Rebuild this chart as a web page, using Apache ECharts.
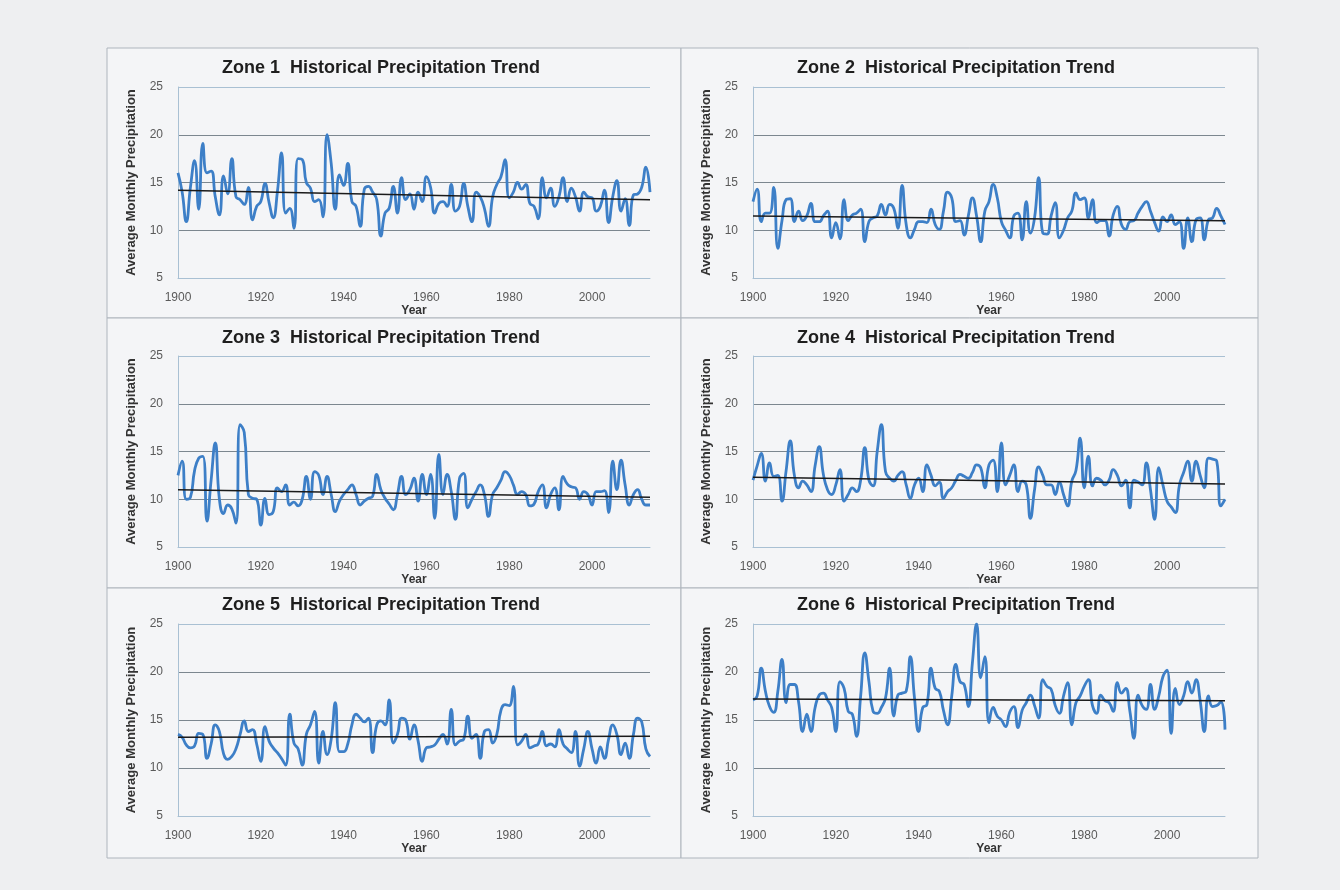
<!DOCTYPE html>
<html><head><meta charset="utf-8">
<script src="https://cdn.jsdelivr.net/npm/echarts@6/dist/echarts.min.js"></script>
<style>html,body{margin:0;padding:0;background:#eeeff1}#c{width:1340px;height:890px}</style>
</head><body><div id="c"></div>
<script>
const firstYear = 1900, lastYear = 2014;
const xTicks = [1900, 1920, 1940, 1960, 1980, 2000];
const yTicks = [5, 10, 15, 20, 25];
const zoneTitles = [
  'Zone 1  Historical Precipitation Trend', 'Zone 2  Historical Precipitation Trend',
  'Zone 3  Historical Precipitation Trend', 'Zone 4  Historical Precipitation Trend',
  'Zone 5  Historical Precipitation Trend', 'Zone 6  Historical Precipitation Trend'];
const yName = 'Average Monthly Precipitation';
const xName = 'Year';

const zone1 = [
  16.0, 14.0, 10.9, 14.5, 17.3, 12.2, 19.1, 16.0, 16.2, 13.5,
  11.6, 15.7, 13.8, 17.5, 13.5, 13.2, 12.7, 14.5, 11.1, 12.5,
  13.0, 14.9, 12.9, 11.3, 14.0, 18.1, 11.8, 12.3, 10.2, 17.5,
  17.4, 15.0, 14.4, 13.0, 13.2, 11.4, 20.0, 17.0, 12.2, 15.8,
  14.7, 17.0, 13.0, 12.5, 10.4, 14.3, 14.6, 14.0, 13.2, 9.4,
  11.8, 12.3, 14.6, 11.8, 15.5, 13.2, 13.8, 12.2, 14.0, 13.0,
  15.6, 14.5, 11.8, 12.8, 13.0, 12.5, 14.8, 12.0, 12.5, 14.9,
  12.5, 10.9, 14.0, 13.5, 12.3, 10.4, 13.5, 14.8, 15.6, 17.4,
  13.4, 14.0, 15.0, 14.3, 14.8, 12.8, 12.5, 11.2, 15.5, 13.4,
  14.4, 12.5, 13.5, 15.5, 13.0, 14.4, 13.5, 12.0, 14.0, 13.5,
  13.4, 12.0, 12.5, 14.2, 10.8, 13.5, 15.2, 12.0, 13.3, 10.5,
  13.7, 13.8, 14.5, 16.6, 14.0];
const zone2 = [
  13.0, 14.3, 10.9, 11.8, 11.8, 14.5, 8.1, 11.0, 13.2, 13.3,
  10.9, 12.0, 11.0, 11.5, 12.8, 10.9, 10.9, 11.5, 12.0, 9.2,
  10.8, 9.1, 13.2, 11.0, 11.6, 11.8, 12.2, 8.8, 10.9, 11.3,
  11.5, 12.7, 11.6, 12.7, 12.3, 10.2, 14.7, 10.6, 9.2, 10.1,
  10.9, 10.9, 10.8, 12.2, 10.6, 10.1, 12.0, 14.0, 13.4, 10.9,
  11.0, 9.5, 11.5, 13.4, 11.5, 8.8, 12.0, 13.0, 14.8, 13.4,
  10.9, 10.0, 9.2, 11.5, 11.8, 9.0, 13.0, 9.7, 11.3, 15.5,
  9.7, 9.6, 11.5, 12.9, 9.2, 10.0, 11.3, 12.0, 13.9, 13.2,
  13.4, 11.3, 13.2, 10.8, 11.0, 11.0, 9.4, 11.6, 12.5, 10.6,
  10.1, 10.9, 11.0, 11.8, 12.5, 13.0, 12.0, 10.8, 9.9, 11.4,
  10.9, 11.6, 10.6, 10.9, 8.1, 11.3, 8.8, 11.1, 11.3, 9.0,
  11.1, 11.3, 12.3, 11.5, 10.6];
const zone3 = [
  12.5, 14.0, 10.0, 10.2, 13.0, 14.3, 14.5, 7.7, 12.0, 15.9,
  10.0, 8.5, 9.4, 9.0, 7.5, 17.8, 17.0, 10.5, 10.1, 10.0,
  7.3, 10.1, 8.4, 8.7, 11.2, 10.8, 11.5, 9.4, 9.7, 9.3,
  10.0, 12.4, 10.0, 12.9, 12.5, 10.5, 12.4, 10.5, 8.7, 9.8,
  10.5, 11.0, 11.5, 10.5, 9.4, 9.8, 10.1, 10.3, 12.6, 11.0,
  10.1, 9.5, 8.9, 10.5, 12.4, 10.5, 11.0, 12.2, 9.8, 12.6,
  10.5, 12.6, 8.0, 14.7, 10.5, 12.6, 10.8, 7.9, 12.2, 12.7,
  9.1, 10.0, 10.8, 11.5, 10.5, 8.2, 10.5, 11.2, 12.0, 12.9,
  12.5, 11.5, 10.5, 10.8, 10.5, 9.3, 9.5, 10.8, 11.5, 9.1,
  10.5, 11.2, 8.9, 12.4, 11.6, 11.3, 11.2, 10.0, 10.8, 10.5,
  9.4, 10.8, 10.8, 10.9, 8.6, 14.0, 11.0, 14.1, 11.5, 9.4,
  10.5, 11.0, 10.0, 9.4, 9.4];
const zone4 = [
  12.0, 13.5, 14.8, 11.9, 13.8, 12.4, 12.5, 9.8, 13.0, 16.1,
  12.5, 11.2, 11.9, 11.5, 10.8, 13.5, 15.5, 12.6, 11.0, 10.5,
  11.5, 13.1, 9.8, 10.5, 11.2, 10.8, 12.0, 15.4, 12.0, 11.4,
  15.0, 17.8, 12.9, 12.2, 11.9, 12.5, 12.9, 11.5, 10.1, 11.5,
  12.2, 10.8, 13.6, 12.5, 11.4, 11.8, 10.1, 10.8, 11.2, 12.0,
  12.6, 12.4, 12.2, 12.8, 13.6, 13.3, 11.2, 13.6, 14.1, 10.8,
  15.9, 11.5, 12.5, 13.6, 10.8, 11.9, 11.5, 8.0, 11.0, 13.4,
  12.5, 11.5, 11.5, 10.5, 11.8, 10.5, 9.3, 11.9, 13.0, 16.4,
  11.2, 14.5, 11.4, 12.2, 12.0, 11.5, 12.0, 13.1, 12.5, 11.4,
  12.0, 9.1, 12.0, 11.8, 11.5, 13.8, 11.0, 7.9, 13.3, 11.5,
  9.8, 9.2, 8.6, 11.5, 12.8, 14.0, 11.9, 14.0, 12.5, 11.2,
  14.3, 14.2, 14.0, 9.3, 10.0];
const zone5 = [
  13.5, 13.2, 12.4, 12.1, 12.3, 13.6, 13.5, 11.0, 12.5, 14.5,
  13.8, 11.5, 10.9, 11.2, 12.0, 13.5, 14.9, 13.8, 14.0, 12.5,
  10.7, 14.3, 12.8, 12.1, 11.6, 11.0, 10.3, 15.6, 12.6, 12.0,
  10.3, 13.5, 14.5, 15.9, 10.5, 13.8, 11.4, 13.0, 16.8, 11.7,
  11.7, 12.5, 14.5, 15.6, 15.2, 14.8, 15.2, 11.6, 14.5, 14.9,
  14.5, 17.1, 12.6, 13.5, 15.2, 15.0, 13.0, 14.5, 12.8, 10.7,
  12.1, 12.2, 12.4, 13.0, 13.5, 12.5, 16.1, 12.4, 12.8, 13.0,
  15.4, 13.1, 13.5, 11.0, 13.8, 14.0, 12.6, 13.5, 16.0, 16.6,
  16.5, 18.5, 12.4, 12.8, 13.5, 12.1, 12.3, 12.5, 13.8, 12.3,
  12.5, 12.2, 14.0, 12.5, 12.0, 11.6, 13.8, 10.2, 12.0, 13.8,
  12.0, 10.5, 12.2, 11.0, 13.0, 14.5, 13.5, 11.4, 12.6, 11.0,
  13.5, 15.2, 14.8, 12.0, 11.2];
const zone6 = [
  17.1, 17.5, 20.4, 18.0, 16.4, 15.8, 18.0, 21.3, 16.8, 18.7,
  18.7, 16.9, 13.8, 15.6, 13.8, 16.3, 17.6, 17.8, 17.1, 16.3,
  13.8, 19.0, 18.3, 15.9, 15.6, 13.3, 17.5, 22.0, 19.0, 15.9,
  15.7, 16.3, 17.3, 20.4, 15.4, 17.6, 17.8, 18.0, 21.6, 17.3,
  13.8, 16.3, 16.6, 20.4, 18.3, 18.0, 16.0, 14.5, 17.5, 20.8,
  19.0, 18.7, 16.4, 21.0, 25.0, 19.4, 21.6, 14.7, 16.3, 15.4,
  15.0, 14.3, 15.8, 16.4, 14.2, 16.0, 16.8, 17.6, 16.5, 15.2,
  19.2, 18.5, 18.2, 16.5, 15.7, 17.5, 18.9, 14.5, 16.8, 17.5,
  18.5, 19.2, 16.5, 15.7, 17.6, 17.0, 16.8, 15.9, 18.9, 17.8,
  18.3, 16.0, 13.1, 17.6, 16.5, 16.1, 18.7, 16.1, 17.5, 19.5,
  20.2, 13.6, 18.3, 16.6, 17.5, 19.0, 17.8, 19.2, 17.0, 13.8,
  17.5, 16.4, 16.5, 16.9, 14.0];
const trendStart = [14.2, 11.5, 11.0, 12.3, 13.2, 17.2];
const trendEnd   = [13.2, 11.0, 10.2, 11.6, 13.3, 17.0];

const zones = [zone1, zone2, zone3, zone4, zone5, zone6];
const years = [];
for (let y = firstYear; y <= lastYear; y++) years.push(y);

// layout
const colPanel = [[107, 681], [681, 1258]];
const rowPanel = [[48, 318], [318, 588], [588, 858]];
const gridLeft = [178, 753];
const gridTop = [87, 356, 624];
const gridH = [191, 191, 192];
const gridW = 472;
const titleX = [381, 956];
const titleY = [68, 338, 605];

const grids = [], xAxes = [], yAxes = [], series = [], graphics = [];
const blue = '#3d7fc7';
zones.forEach((vals, i) => {
  const c = i % 2, r = Math.floor(i / 2);
  graphics.push({ type: 'rect', z: -10, shape: { x: colPanel[c][0], y: rowPanel[r][0],
    width: colPanel[c][1] - colPanel[c][0], height: rowPanel[r][1] - rowPanel[r][0] },
    style: { fill: '#f4f5f7', stroke: '#aeb5bd', lineWidth: 1 } });
  graphics.push({ type: 'text', x: titleX[c], y: titleY[r], style: { text: zoneTitles[i],
    font: 'bold 18px "Liberation Sans", Arial, sans-serif', fill: '#1e1e1e',
    align: 'center', verticalAlign: 'middle', textAlign: 'center', textVerticalAlign: 'middle' } });
  grids.push({ left: gridLeft[c], top: gridTop[r], width: gridW, height: gridH[r], containLabel: false });
  xAxes.push({ type: 'value', gridIndex: i, min: firstYear, max: lastYear, interval: xTicks[1] - xTicks[0],
    name: xName, nameLocation: 'middle', nameGap: 25,
    nameTextStyle: { fontWeight: 'bold', fontSize: 12, color: '#333', fontFamily: 'Liberation Sans' },
    axisLine: { show: true, lineStyle: { color: '#a9c0d3', width: 1 } },
    axisTick: { show: false }, splitLine: { show: false },
    axisLabel: { showMaxLabel: false, margin: 14, fontSize: 12, color: '#5a5a5a', fontFamily: 'Liberation Sans',
      formatter: v => xTicks.indexOf(v) >= 0 ? String(v) : '' } });
  yAxes.push({ type: 'value', gridIndex: i, min: yTicks[0], max: yTicks[yTicks.length - 1], interval: yTicks[1] - yTicks[0],
    name: yName, nameLocation: 'middle', nameGap: 40, nameRotate: 90,
    nameTextStyle: { fontWeight: 'bold', fontSize: 13, color: '#333', fontFamily: 'Liberation Sans' },
    axisLine: { show: true, lineStyle: { color: '#a9c0d3', width: 1 } },
    axisTick: { show: false },
    splitLine: { show: true, lineStyle: { color: ['#a9c0d3', '#7c878f', '#7c878f', '#7c878f', '#a9c0d3'], width: 1 } },
    axisLabel: { margin: 15, fontSize: 12, color: '#5a5a5a', fontFamily: 'Liberation Sans' } });
  series.push({ type: 'line', xAxisIndex: i, yAxisIndex: i, data: years.map((y, k) => [y, vals[k]]),
    showSymbol: false, smooth: 0.5, lineStyle: { color: blue, width: 2.8 }, itemStyle: { color: blue },
    silent: true, z: 2 });
  series.push({ type: 'line', xAxisIndex: i, yAxisIndex: i,
    data: [[firstYear, trendStart[i]], [lastYear, trendEnd[i]]],
    showSymbol: false, lineStyle: { color: '#1b1b1b', width: 1.5 }, silent: true, z: 3 });
});

const chart = echarts.init(document.getElementById('c'), null, { renderer: 'canvas' });
chart.setOption({
  backgroundColor: '#eeeff1',
  animation: false,
  grid: grids, xAxis: xAxes, yAxis: yAxes, series: series,
  graphic: { elements: graphics }
});
</script></body></html>
